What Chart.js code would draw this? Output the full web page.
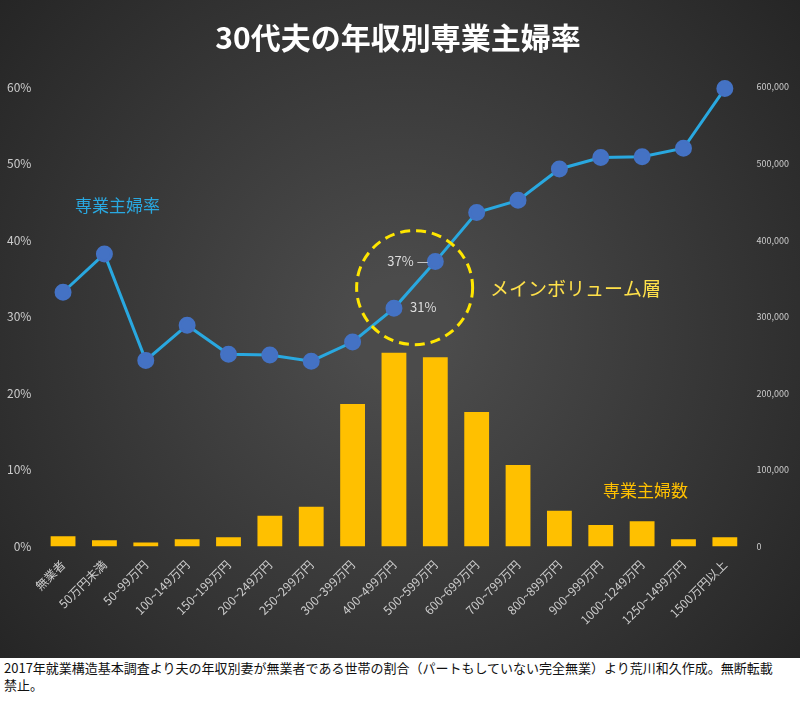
<!DOCTYPE html>
<html><head><meta charset="utf-8">
<script src="https://cdn.jsdelivr.net/npm/chart.js@4"></script>
<style>
body{margin:0;background:#fff;font-family:"Noto Sans CJK JP",sans-serif;}
#wrap{width:800px;height:658px;position:relative;}
#cap{font-size:13px;line-height:17px;color:#111;padding:1px 4px;width:780px;}
</style></head><body>
<div id="wrap"><canvas id="c"></canvas></div>
<div id="cap">2017年就業構造基本調査より夫の年収別妻が無業者である世帯の割合（パートもしていない完全無業）より荒川和久作成。無断転載禁止。</div>
<script>
var labels = ["無業者","50万円未満","50~99万円","100~149万円","150~199万円","200~249万円","250~299万円","300~399万円","400~499万円","500~599万円","600~699万円","700~799万円","800~899万円","900~999万円","1000~1249万円","1250~1499万円","1500万円以上"];
var rate = [33.2,38.2,24.3,28.9,25.1,25.0,24.2,26.7,31.1,37.2,43.6,45.2,49.3,50.8,50.9,52.0,59.8];
var count = [13300,8000,5300,9300,12000,40000,52000,186000,253000,247000,175600,106400,46500,28000,33000,9300,12000];

var font = '"Noto Sans CJK JP", sans-serif';
var deco = {
  id: "deco",
  beforeDraw: function(chart){
    var c = chart.ctx, w = chart.width, h = chart.height;
    var g = c.createRadialGradient(w/2, h/2, 50, w/2, h/2, w*0.7);
    g.addColorStop(0, "#4b4b4b"); g.addColorStop(1, "#222");
    c.save(); c.fillStyle = g; c.fillRect(0,0,w,h); c.restore();
  },
  afterDatasetsDraw: function(chart){
    var c = chart.ctx, x = chart.scales.x, y = chart.scales.y;
    c.save();
    c.font = "17px " + font;
    c.fillStyle = "#29a8e0"; c.fillText("専業主婦率", 75, 212);
    c.fillStyle = "#ffe14a"; c.font = "19px " + font;
    c.fillText("メインボリューム層", 490, 296);
    c.fillStyle = "#ffc000"; c.font = "17px " + font;
    c.fillText("専業主婦数", 603, 497);
    var cx = (x.getPixelForValue(8) + x.getPixelForValue(9)) / 2, cy = y.getPixelForValue(33.8);
    c.setLineDash([10,6]); c.lineWidth = 3; c.strokeStyle = "#ffe600";
    c.beginPath(); c.ellipse(cx, cy, 58, 57, 0, 0, Math.PI*2); c.stroke();
    c.setLineDash([]);
    c.fillStyle = "#ddd"; c.font = "13px " + font;
    c.fillText("37% —", x.getPixelForValue(9) - 48, y.getPixelForValue(37.2) + 4);
    c.fillText("31%", x.getPixelForValue(8) + 16, y.getPixelForValue(31.1) + 4);
    c.restore();
  }
};

new Chart(document.getElementById("c"), {
  data: {
    labels: labels,
    datasets: [
      { type: "line", data: rate, yAxisID: "y", borderColor: "#29a8e0", borderWidth: 3, clip: false,
        pointBackgroundColor: "#4472c4", pointBorderColor: "#4472c4", pointRadius: 7, order: 0 },
      { type: "bar", data: count, yAxisID: "y1", backgroundColor: "#ffc000",
        barPercentage: 0.6, categoryPercentage: 1, order: 1 }
    ]
  },
  options: {
    responsive: true, maintainAspectRatio: false, animation: false,
    layout: { padding: { left: 4, right: 8, top: 0, bottom: 28 } },
    plugins: {
      legend: { display: false }, tooltip: { enabled: false },
      title: { display: true, text: "30代夫の年収別専業主婦率", color: "#fff",
        font: { family: font, size: 30, weight: "bold" }, padding: { top: 20, bottom: 31 } }
    },
    scales: {
      x: { grid: { display: false }, border: { display: false },
        ticks: { color: "#ccc", font: { family: font, size: 12 }, maxRotation: 45, minRotation: 45 } },
      y: { position: "left", min: 0, max: 60, grid: { display: false }, border: { display: false },
        ticks: { stepSize: 10, color: "#ccc", font: { family: font, size: 12 }, callback: function(v){ return v + "%"; } } },
      y1: { position: "right", min: 0, max: 600000, grid: { display: false }, border: { display: false },
        ticks: { stepSize: 100000, color: "#ccc", font: { family: font, size: 9 }, callback: function(v){ return v.toLocaleString("en-US"); } } }
    }
  },
  plugins: [deco]
});
</script>
</body></html>
